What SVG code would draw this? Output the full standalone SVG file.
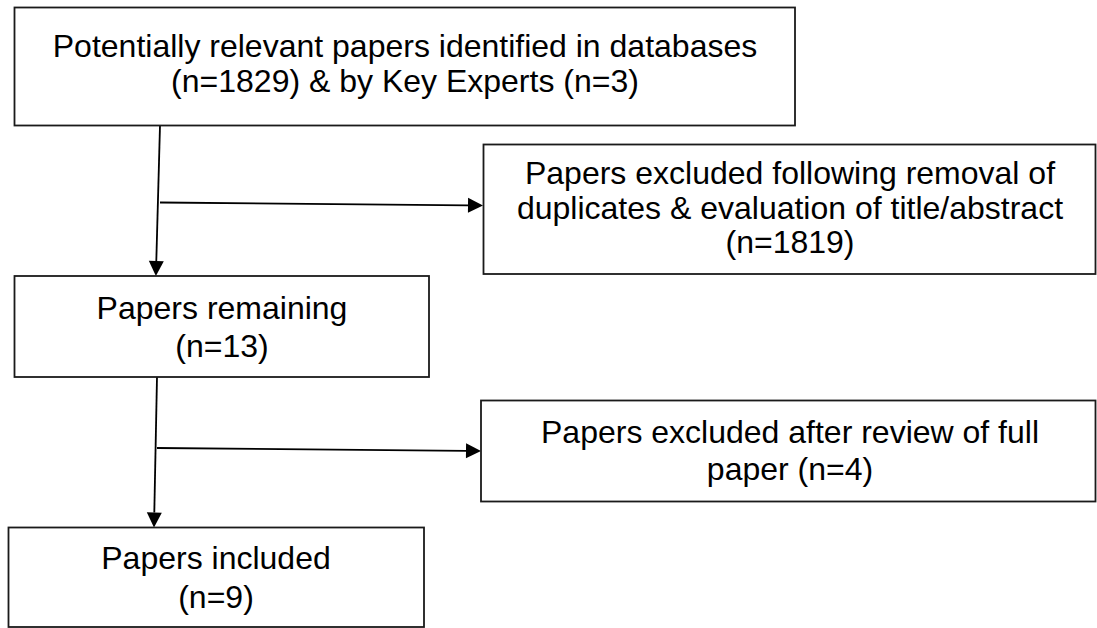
<svg xmlns="http://www.w3.org/2000/svg" width="1097" height="628" viewBox="0 0 1097 628">
  <style>
    .box { fill: #fff; stroke: #1a1a1a; stroke-width: 1.8; }
    .lbl { font-family: "Liberation Sans", Arial, sans-serif; font-size: 32px; fill: #000; text-anchor: middle; }
    .conn { fill: none; stroke: #000; stroke-width: 1.8; }
  </style>
  <defs>
    <marker id="arrow" markerUnits="userSpaceOnUse" markerWidth="16" markerHeight="16" refX="0" refY="7.5" orient="auto" overflow="visible">
      <path d="M0,0 L15,7.5 L0,15 Z" fill="#000"/>
    </marker>
  </defs>
  <rect width="1097" height="628" fill="#fff"/>

  <g id="connectors">
    <path class="conn" d="M160,125.5 L156.3,261" marker-end="url(#arrow)"/>
    <path class="conn" d="M160,202.5 L468,205.3" marker-end="url(#arrow)"/>
    <path class="conn" d="M157,377 L154.3,512.5" marker-end="url(#arrow)"/>
    <path class="conn" d="M157,448 L466,450.8" marker-end="url(#arrow)"/>
  </g>

  <g id="node-identified">
    <rect class="box" x="14.5" y="7.5" width="780.5" height="118"/>
    <text class="lbl" x="405" y="57">Potentially relevant papers identified in databases</text>
    <text class="lbl" x="405" y="92">(n=1829) &amp; by Key Experts (n=3)</text>
  </g>

  <g id="node-excluded-1">
    <rect class="box" x="483.5" y="144.5" width="612" height="129.5"/>
    <text class="lbl" x="790" y="184.3">Papers excluded following removal of</text>
    <text class="lbl" x="790" y="218.5">duplicates &amp; evaluation of title/abstract</text>
    <text class="lbl" x="790" y="253">(n=1819)</text>
  </g>

  <g id="node-remaining">
    <rect class="box" x="14.5" y="276" width="414.5" height="101"/>
    <text class="lbl" x="222" y="319">Papers remaining</text>
    <text class="lbl" x="222" y="356.7">(n=13)</text>
  </g>

  <g id="node-excluded-2">
    <rect class="box" x="481" y="400.5" width="614.5" height="101"/>
    <text class="lbl" x="790" y="443.3">Papers excluded after review of full</text>
    <text class="lbl" x="790" y="480">paper (n=4)</text>
  </g>

  <g id="node-included">
    <rect class="box" x="8.5" y="527.5" width="415.5" height="99.5"/>
    <text class="lbl" x="216" y="569.3">Papers included</text>
    <text class="lbl" x="216" y="608">(n=9)</text>
  </g>
</svg>
